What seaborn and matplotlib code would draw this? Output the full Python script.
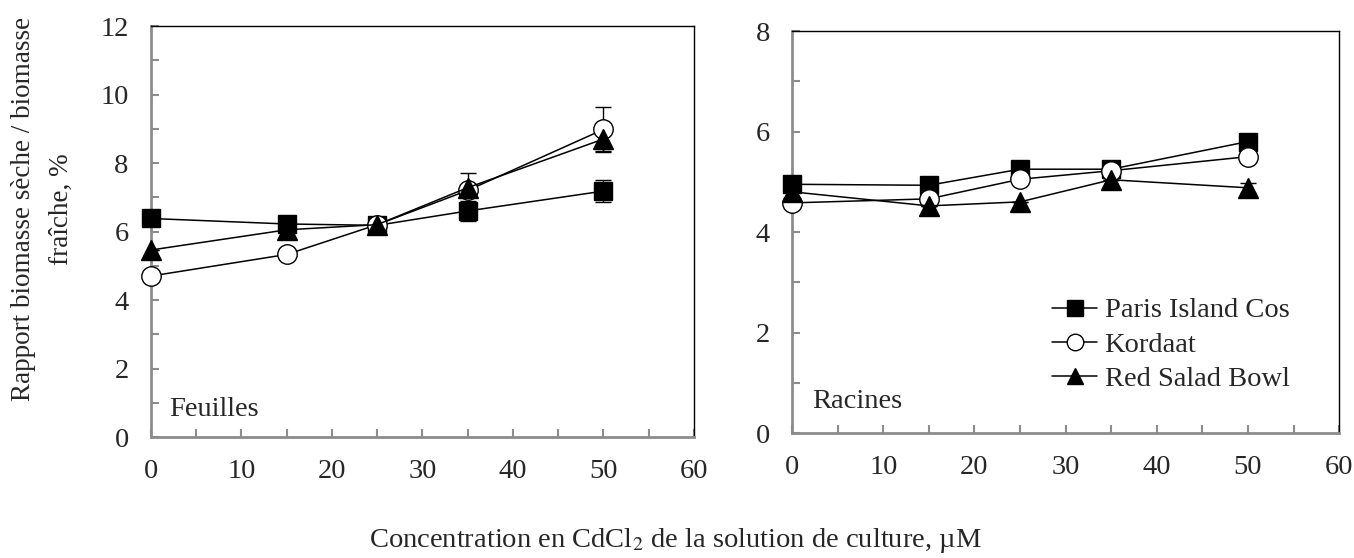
import numpy as np
import pandas as pd
import matplotlib
matplotlib.use('Agg')
import matplotlib.pyplot as plt
import seaborn as sns
from matplotlib.ticker import MultipleLocator

# data
conc = [0, 15, 25, 35, 50]
varieties = ['Paris Island Cos', 'Kordaat', 'Red Salad Bowl']

leaves_pic = [6.38, 6.22, 6.18, 6.6, 7.18]
leaves_kor = [4.7, 5.33, 6.2, 7.2, 8.98]
leaves_rsb = [5.46, 6.05, 6.2, 7.28, 8.7]
leaves_pic_err = [0.0, 0.0, 0.0, 0.3, 0.33]
leaves_kor_err = [0.0, 0.0, 0.0, 0.0, 0.65]
leaves_rsb_err = [0.0, 0.0, 0.0, 0.42, 0.35]

roots_pic = [4.95, 4.93, 5.25, 5.25, 5.8]
roots_kor = [4.58, 4.66, 5.05, 5.22, 5.5]
roots_rsb = [4.8, 4.52, 4.6, 5.04, 4.88]
roots_pic_err = [0.0, 0.0, 0.0, 0.0, 0.0]
roots_kor_err = [0.0, 0.0, 0.0, 0.0, 0.0]
roots_rsb_err = [0.0, 0.0, 0.0, 0.0, 0.1]

sns.set_style('ticks')
plt.rcParams['font.family'] = ['Liberation Serif', 'DejaVu Serif']
plt.rcParams['mathtext.fontset'] = 'stix'

FS = 20.5
GRAY = '#8c8c8c'
styles = {
    'Paris Island Cos': dict(marker='s', markerfacecolor='black', markersize=13.5),
    'Kordaat': dict(marker='o', markerfacecolor='white', markersize=14),
    'Red Salad Bowl': dict(marker='^', markerfacecolor='black', markersize=14),
}

fig = plt.figure(figsize=(13.54, 5.58), dpi=100)
ax1 = fig.add_axes([0.1115, 0.2168, 0.401, 0.7366])
ax2 = fig.add_axes([0.585, 0.224, 0.404, 0.7204])


def draw_panel(ax, series, errs, ymax, ystep, label, label_pos, legend=False):
    for name, vals, err in zip(varieties, series, errs):
        df = pd.DataFrame({'conc': conc, 'val': vals})
        ax.errorbar(conc, vals, yerr=err, fmt='none', ecolor='black',
                    elinewidth=1, capsize=6, capthick=1, zorder=2)
        sns.lineplot(data=df, x='conc', y='val', ax=ax, color='black',
                     linewidth=1.1, markeredgecolor='black', markeredgewidth=1,
                     label=name if legend else None, zorder=3, clip_on=False,
                     **styles[name])
    ax.set_xlim(0, 60)
    ax.set_ylim(0, ymax)
    ax.xaxis.set_major_locator(MultipleLocator(10))
    ax.xaxis.set_minor_locator(MultipleLocator(5))
    ax.yaxis.set_major_locator(MultipleLocator(ystep))
    ax.yaxis.set_minor_locator(MultipleLocator(ystep / 2))
    ax.tick_params(which='both', direction='in', color=GRAY, width=1.5,
                   labelsize=FS, top=False, right=False, length=6)
    ax.tick_params(axis='x', pad=16)
    ax.tick_params(axis='y', pad=16)
    for side in ['left', 'bottom']:
        ax.spines[side].set_color(GRAY)
        ax.spines[side].set_linewidth(2)
    for side in ['top', 'right']:
        ax.spines[side].set_visible(True)
        ax.spines[side].set_color('black')
        ax.spines[side].set_linewidth(1)
    ax.set_xlabel('')
    ax.set_ylabel('')
    ax.text(label_pos[0], label_pos[1], label, transform=ax.transAxes,
            fontsize=FS, ha='left', va='baseline')
    if legend:
        ax.legend(loc='center left', bbox_to_anchor=(0.475, 0.219), frameon=False,
                  fontsize=FS, handlelength=1.6, handletextpad=0.25,
                  labelspacing=0.3, borderpad=0, borderaxespad=0, markerscale=0.85)


draw_panel(ax1, [leaves_pic, leaves_kor, leaves_rsb],
           [leaves_pic_err, leaves_kor_err, leaves_rsb_err], 12, 2,
           'Feuilles', (0.033, 0.051))
draw_panel(ax2, [roots_pic, roots_kor, roots_rsb],
           [roots_pic_err, roots_kor_err, roots_rsb_err], 8, 2,
           'Racines', (0.037, 0.062), legend=True)

fig.text(0.031, 0.626, 'Rapport biomasse sèche / biomasse\nfraîche, %', rotation=90,
         ha='center', va='center', multialignment='center', fontsize=19.5,
         linespacing=1.68)
fig.text(0.499, 0.032, 'Concentration en CdCl$_2$ de la solution de culture, µM',
         ha='center', va='center', fontsize=FS)

fig.savefig('out.png', dpi=100)
